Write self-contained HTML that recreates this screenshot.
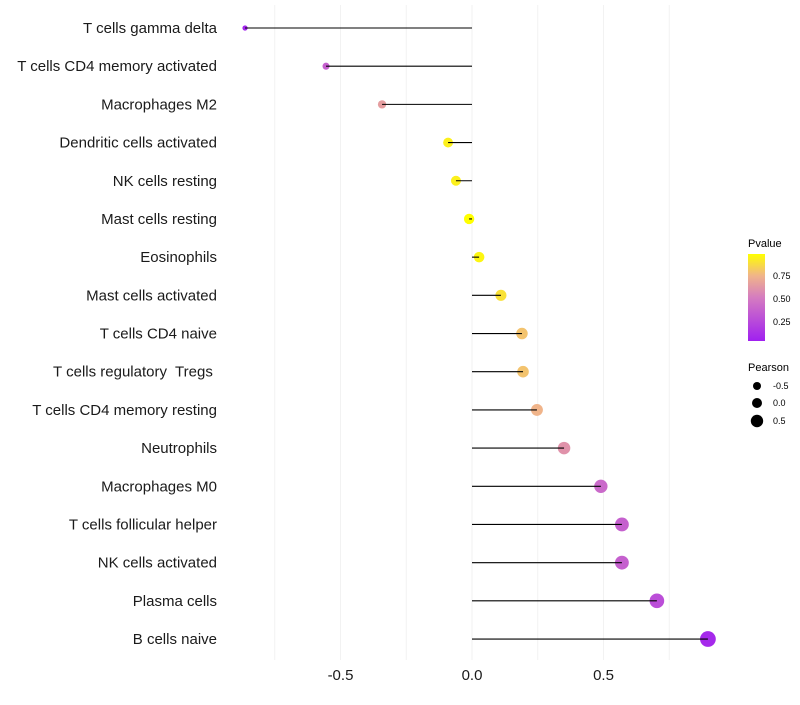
<!DOCTYPE html>
<html><head><meta charset="utf-8"><style>
body{margin:0;background:#fff;font-family:"Liberation Sans",sans-serif}
text{white-space:pre}
</style></head><body>
<svg id="c" width="800" height="700" xmlns="http://www.w3.org/2000/svg">
<defs><linearGradient id="pg" x1="0" y1="1" x2="0" y2="0">
<stop offset="0" stop-color="#a020f0"/><stop offset="0.5" stop-color="#d57cc0"/><stop offset="0.75" stop-color="#f0b48a"/><stop offset="1" stop-color="#ffff00"/></linearGradient></defs>
<g id="grid"></g><g id="marks"></g><g id="labels"></g>
<g font-size="10">
<text x="748" y="247" font-size="11">Pvalue</text>
<rect x="748" y="254" width="17" height="87" fill="url(#pg)"/>
<text x="773" y="279" font-size="9">0.75</text><text x="773" y="302" font-size="9">0.50</text><text x="773" y="325" font-size="9">0.25</text>
<text x="748" y="371" font-size="11">Pearson</text>
<circle cx="757" cy="386" r="4" fill="#000"/><text x="773" y="389" font-size="9">-0.5</text>
<circle cx="757" cy="403" r="5" fill="#000"/><text x="773" y="406" font-size="9">0.0</text>
<circle cx="757" cy="421" r="6.2" fill="#000"/><text x="773" y="424" font-size="9">0.5</text>
</g>
</svg>
<script>
const categories=["T cells gamma delta","T cells CD4 memory activated","Macrophages M2","Dendritic cells activated","NK cells resting","Mast cells resting","Eosinophils","Mast cells activated","T cells CD4 naive","T cells regulatory  Tregs ","T cells CD4 memory resting","Neutrophils","Macrophages M0","T cells follicular helper","NK cells activated","Plasma cells","B cells naive"];
const pearson=[-0.863,-0.555,-0.342,-0.091,-0.061,-0.011,0.027,0.110,0.190,0.194,0.247,0.350,0.490,0.570,0.570,0.703,0.897];
const pvalue=[0.03,0.35,0.65,0.95,0.95,1.0,0.97,0.9,0.8,0.8,0.75,0.6,0.4,0.35,0.35,0.25,0.05];
const xTicks=[-0.5,0,0.5];
const xTickLabels=["-0.5","0.0","0.5"];
const minorTicks=[-0.75,-0.25,0.25,0.75];
const NS="http://www.w3.org/2000/svg";
const x=v=>472+v*263;
const y=i=>28+i*38.19;
function col(p){const st=[[0,[160,32,240]],[0.5,[213,124,192]],[0.75,[240,180,138]],[1,[255,255,0]]];
for(let k=1;k<st.length;k++){if(p<=st[k][0]){const a=st[k-1],b=st[k],t=(p-a[0])/(b[0]-a[0]);return`rgb(${a[1].map((c,j)=>Math.round(c+(b[1][j]-c)*t)).join(",")})`;}}return"rgb(255,255,0)";}
function mk(t,a,p){const e=document.createElementNS(NS,t);for(const k in a)e.setAttribute(k,a[k]);p.appendChild(e);return e;}
const G=document.getElementById("grid"),M=document.getElementById("marks"),L=document.getElementById("labels");
minorTicks.concat(xTicks).forEach(v=>{const l=mk("line",{x1:x(v),x2:x(v),y1:5,y2:660,stroke:"#f2f2f2","stroke-width":1},G);

});
categories.forEach((c,i)=>{
const t=mk("text",{x:217,y:y(i)+5,"text-anchor":"end","font-size":15,fill:"#1a1a1a"},L);t.textContent=c;


const d=mk("circle",{cx:x(pearson[i]),cy:y(i),r:5.2+3*pearson[i],fill:col(pvalue[i])},M);


const ln=mk("line",{x1:x(0),x2:x(pearson[i]),y1:y(i),y2:y(i),stroke:"#000","stroke-width":1.1},M);


});
xTicks.forEach((v,i)=>{const t=mk("text",{x:x(v),y:680,"text-anchor":"middle","font-size":15,fill:"#1a1a1a"},L);t.textContent=xTickLabels[i];

});
</script>
</body></html>
